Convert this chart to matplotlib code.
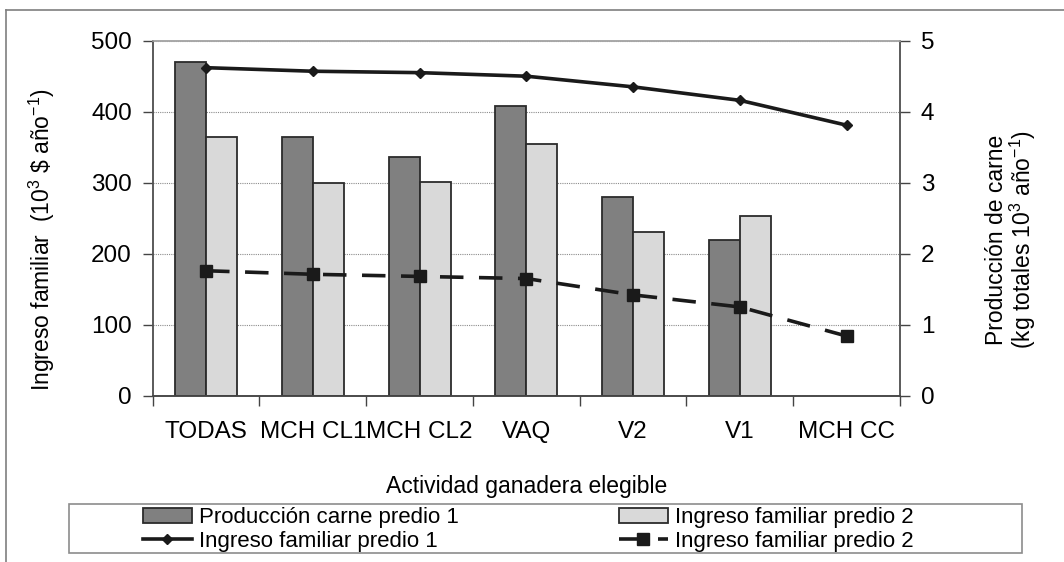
import numpy as np
import matplotlib
matplotlib.use('Agg')
import matplotlib.pyplot as plt
from matplotlib.lines import Line2D
from matplotlib.patches import Rectangle

plt.rcParams['font.family'] = ['Liberation Sans', 'DejaVu Sans']
plt.rcParams['mathtext.fontset'] = 'custom'
plt.rcParams['mathtext.rm'] = 'Liberation Sans'
plt.rcParams['mathtext.it'] = 'Liberation Sans:italic'
plt.rcParams['mathtext.bf'] = 'Liberation Sans:bold'

# data
actividades = ['TODAS', 'MCH CL1', 'MCH CL2', 'VAQ', 'V2', 'V1', 'MCH CC']
prod_predio1 = [4.70, 3.65, 3.36, 4.08, 2.80, 2.20, np.nan]      # 10^3 kg
prod_predio2 = [3.65, 2.99, 3.01, 3.54, 2.31, 2.53, np.nan]
ingreso_predio1 = [462, 457, 455, 450, 435, 416, 381]            # 10^3 $
ingreso_predio2 = [176, 171, 168, 165, 142, 125, 84]

W, H = 1064, 562
fig = plt.figure(figsize=(W / 100, H / 100), dpi=100, facecolor='white')

# axes box in pixels: x 152.7-900, y 40.7-395.7
ax = fig.add_axes([152.7 / W, 1 - 395.7 / H, (900 - 152.7) / W, 355 / H])
ax2 = ax.twinx()
ax.set_zorder(ax2.get_zorder() + 1)
ax.patch.set_visible(False)

x = np.arange(len(actividades))
bw = 0.29
dark = '#808080'
light = '#d9d9d9'
edge = '#2b2b2b'

b1 = ax2.bar(x - bw / 2, prod_predio1, bw, color=dark, edgecolor=edge, linewidth=1.3,
             label='Producción carne predio 1')
b2 = ax2.bar(x + bw / 2, prod_predio2, bw, color=light, edgecolor=edge, linewidth=1.3,
             label='Ingreso familiar predio 2')

l1, = ax.plot(x, ingreso_predio1, color='#1a1a1a', linewidth=2.6, marker='D',
              markersize=5, label='Ingreso familiar predio 1')
l2, = ax.plot(x, ingreso_predio2, color='#1a1a1a', linewidth=2.6, linestyle=(0, (6.5, 4.3)),
              marker='s', markersize=8, label='Ingreso familiar predio 2')

ax.set_xlim(-0.5, len(actividades) - 0.5)
ax.set_ylim(0, 500)
ax2.set_ylim(0, 5)
ax.set_yticks([0, 100, 200, 300, 400, 500])
ax2.set_yticks([0, 1, 2, 3, 4, 5])

ax2.grid(axis='y', color='#8c8c8c', linestyle=(0, (1, 1)), linewidth=0.8)
ax2.set_axisbelow(True)

ax.set_xticks(x)
ax.set_xticklabels(actividades, fontsize=17.5)
ax.set_xticks(np.arange(len(actividades) + 1) - 0.5, minor=True)
ax.tick_params(axis='x', which='major', length=0, pad=18)
ax.tick_params(axis='x', which='minor', length=7, width=1, color='#444444', direction='out')
ax.tick_params(axis='y', labelsize=17.5, length=7, width=1, color='#444444', pad=8)
ax2.tick_params(axis='y', labelsize=17.5, length=7, width=1, color='#444444', pad=8)
ax2.tick_params(axis='x', length=0)

for a in (ax, ax2):
    a.spines['top'].set_color('#a6a6a6')
    a.spines['left'].set_color('#555555')
    a.spines['right'].set_color('#555555')
    a.spines['bottom'].set_color('#444444')
    for s in a.spines.values():
        s.set_linewidth(1.1)

ax.set_xlabel('Actividad ganadera elegible', fontsize=16.5, labelpad=23)
ax.set_ylabel('Ingreso familiar  (10$^{3}$ \\$ año$^{-1}$)', fontsize=16.5)
ax.yaxis.set_label_coords(-0.128, 0.44)
ax2.set_ylabel('Producción de carne\n(kg totales 10$^{3}$ año$^{-1}$)', fontsize=16.5,
               rotation=90, linespacing=1.0)
ax2.yaxis.set_label_coords(1.114, 0.44)

# outer frame (clipped by the image edge on right and bottom)
fig.add_artist(Line2D([6 / W, 6 / W], [1 - 10 / H, 0], color='#7f7f7f', linewidth=1.2))
fig.add_artist(Line2D([6 / W, 1], [1 - 10 / H, 1 - 10 / H], color='#7f7f7f', linewidth=1.2))

# legend frame
fig.add_artist(Rectangle((69 / W, 1 - 552.7 / H), (1022 - 69) / W, 48.4 / H,
                         transform=fig.transFigure, fill=False, edgecolor='#8c8c8c',
                         linewidth=1.2))

leg_kw = dict(frameon=False, fontsize=16, handlelength=2.2, handletextpad=0.3,
              labelspacing=0.1, borderpad=0, borderaxespad=0, loc='center left')
fig.legend([b1, l1], ['Producción carne predio 1', 'Ingreso familiar predio 1'],
           bbox_to_anchor=(143 / W, 1 - 529.5 / H), **leg_kw)
fig.legend([b2, l2], ['Ingreso familiar predio 2', 'Ingreso familiar predio 2'],
           bbox_to_anchor=(619 / W, 1 - 529.5 / H), **leg_kw)

fig.savefig('out.png', dpi=100, facecolor='white')
